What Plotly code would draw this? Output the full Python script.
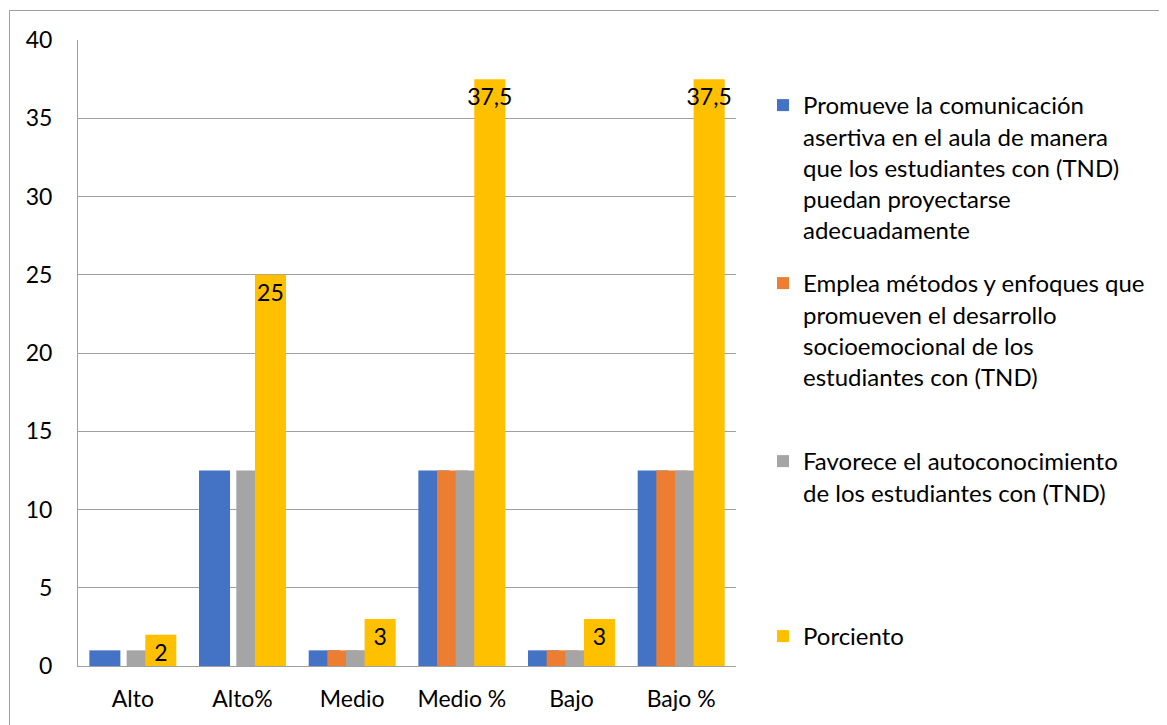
import plotly.graph_objects as go

categories = ["Alto", "Alto%", "Medio", "Medio %", "Bajo", "Bajo %"]
promueve = [1, 12.5, 1, 12.5, 1, 12.5]
emplea = [None, None, 1, 12.5, 1, 12.5]
favorece = [1, 12.5, 1, 12.5, 1, 12.5]
porciento = [2, 25, 3, 37.5, 3, 37.5]

names = [
    "Promueve la comunicación<br>asertiva en el aula de manera<br>que los estudiantes con (TND)<br>puedan proyectarse<br>adecuadamente",
    "Emplea métodos y enfoques que<br>promueven el desarrollo<br>socioemocional de los<br>estudiantes con (TND)",
    "Favorece el autoconocimiento<br>de los estudiantes con (TND)",
    "Porciento",
]
colors = ["#4472C4", "#ED7D31", "#A5A5A5", "#FFC000"]
series = [promueve, emplea, favorece, porciento]

FONT = "Lato, Carlito, Calibri, sans-serif"
OFF = 8  # page body margin
W, H = 1167, 725
# plot area in screen pixels: x 78..736, y 40..666
L = 78 - OFF
T = 40 - OFF
R = W - (736 - OFF)
B = H - (666 - OFF)
pw, ph = W - L - R, H - T - B

bw = 0.283
step = 0.17
start = -(3 * step + bw) / 2

fig = go.Figure()
legend_ids = ["legend", "legend2", "legend3", "legend4"]
for i, (nm, col, vals) in enumerate(zip(names, colors, series)):
    kw = {}
    if i == 3:
        kw = dict(text=vals, texttemplate="%{y}", textposition="inside",
                  insidetextanchor="end", textangle=0, constraintext="none",
                  textfont=dict(size=23, color="black", family=FONT))
    fig.add_trace(go.Bar(
        x=categories, y=vals, name=nm, marker=dict(color=col, line=dict(width=0)),
        width=bw, offset=start + i * step, legend=legend_ids[i], **kw))

def px_x(sx):
    return (sx - OFF - L) / pw

def px_y(sy):
    return (H - B - (sy - OFF)) / ph

legend_tops = [83, 261, 439, 614]
layout_legends = {}
for lid, top in zip(legend_ids, legend_tops):
    layout_legends[lid] = dict(
        x=px_x(763), xanchor="left", y=px_y(top), yanchor="top",
        font=dict(size=24, family=FONT, color="black"),
        bgcolor="rgba(0,0,0,0)", valign="top", itemsizing="constant")

fig.update_layout(
    width=W, height=H,
    margin=dict(l=L, r=R, t=T, b=B, pad=0),
    barmode="overlay",
    separators=",.",
    paper_bgcolor="white", plot_bgcolor="white",
    font=dict(family=FONT, size=23, color="black"),
    showlegend=True,
    xaxis=dict(showline=True, linecolor="#A0A0A0", linewidth=1, ticks="",
               tickfont=dict(size=23, color="black"), showgrid=False,
               range=[-0.5, 5.5], ticklabelstandoff=12),
    yaxis=dict(range=[0, 40], dtick=5, showline=True, linecolor="#A0A0A0",
               linewidth=1, gridcolor="#A0A0A0", gridwidth=1, ticks="",
               tickfont=dict(size=23, color="black"), zeroline=False,
               ticklabelstandoff=20),
    shapes=[dict(type="rect", xref="paper", yref="paper",
                 x0=px_x(9.5), x1=px_x(1400), y0=px_y(900), y1=px_y(10.5),
                 line=dict(color="#A0A0A0", width=1), layer="below")],
    **layout_legends,
)

fig.write_html("out.html")
